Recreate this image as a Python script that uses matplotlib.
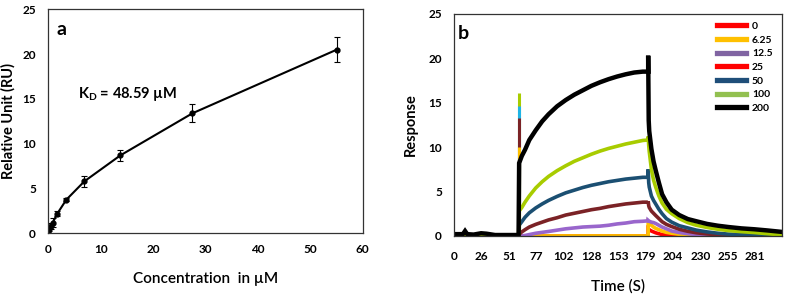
import matplotlib
matplotlib.use("Agg")
import matplotlib.pyplot as plt
from matplotlib.lines import Line2D

plt.rcParams['font.family'] = ['Lato', 'DejaVu Sans']

# ---- panel a: binding curve ----
conc = [0, 0.21, 0.43, 0.86, 1.72, 3.44, 6.88, 13.75, 27.5, 55]
ru = [0, 0.45, 0.8, 1.2, 2.2, 3.75, 5.8, 8.7, 13.4, 20.5]
ru_err = [0.1, 0.25, 0.35, 0.45, 0.3, 0.2, 0.6, 0.6, 1.0, 1.4]
kd_text = r'K$_{\mathregular{D}}$ = 48.59 µM'

# ---- panel b: sensorgrams ----
labels = ['0', '6.25', '12.5', '25', '50', '100', '200']
curve_colors = ['#ff0000', '#ffc000', '#9966cc', '#7b2226', '#1b4f72', '#a8cc00', '#000000']
legend_colors = ['#ff0000', '#ffc000', '#8064a2', '#ff0000', '#1f4e79', '#92c050', '#000000']

t_pre = [0, 8, 10, 12, 18, 25, 30, 38, 45, 55, 60]
pre_200 = [0.2, 0.2, 0.55, 0.2, 0.15, 0.3, 0.25, 0.1, 0.1, 0.1, 0.1]
pre_zero = [0, 0, 0, 0, 0, 0, 0, 0, 0, 0, 0]

t_assoc = [60.5, 63, 66, 70, 76, 82, 88, 96, 104, 112, 120, 128, 136, 144, 152, 160, 168, 176, 181]
assoc = {
    '0':    [0, 0, 0, 0, 0, 0, 0, 0, 0, 0, 0, 0, 0, 0, 0, 0, 0, 0, 0],
    '6.25': [0, 0, 0, 0, 0, 0, 0, 0, 0, 0, 0, 0, 0, 0, 0, 0, 0, 0, 0],
    '12.5': [0, 0, 0.05, 0.15, 0.3, 0.4, 0.5, 0.65, 0.8, 0.9, 1.0, 1.05, 1.1, 1.2, 1.35, 1.45, 1.6, 1.65, 1.7],
    '25':   [0.2, 0.45, 0.7, 1.0, 1.3, 1.55, 1.8, 2.05, 2.35, 2.55, 2.75, 2.95, 3.1, 3.3, 3.45, 3.6, 3.7, 3.8, 3.8],
    '50':   [1.2, 1.6, 2.1, 2.6, 3.15, 3.6, 4.0, 4.45, 4.85, 5.15, 5.45, 5.7, 5.9, 6.1, 6.25, 6.4, 6.5, 6.6, 6.6],
    '100':  [2.8, 3.2, 3.8, 4.5, 5.4, 6.1, 6.7, 7.35, 7.9, 8.4, 8.8, 9.2, 9.55, 9.85, 10.1, 10.35, 10.55, 10.75, 10.8],
    '200':  [8.2, 9.0, 9.7, 10.8, 11.9, 12.9, 13.7, 14.6, 15.3, 15.9, 16.4, 16.9, 17.3, 17.65, 17.95, 18.2, 18.4, 18.5, 18.5],
}

t_dissoc = [181, 181.5, 182, 184, 186, 188, 191, 194, 198, 203, 210, 218, 226, 236, 246, 256, 268, 280, 292, 306]
dissoc = {
    '0':    [0.8, 0.75, 0.7, 0.55, 0.45, 0.35, 0.25, 0.15, 0.1, 0.05, 0.02, 0, 0, 0, 0, 0, 0, 0, 0, 0],
    '6.25': [1.6, 1.55, 1.5, 1.2, 1.0, 0.85, 0.7, 0.55, 0.4, 0.3, 0.18, 0.1, 0.05, 0.02, 0, 0, 0, 0, 0, 0],
    '12.5': [1.75, 1.7, 1.65, 1.55, 1.5, 1.4, 1.2, 1.0, 0.8, 0.55, 0.38, 0.25, 0.15, 0.08, 0.05, 0.03, 0.03, 0.02, 0.02, 0.02],
    '25':   [3.9, 3.4, 3.2, 2.8, 2.55, 2.3, 1.95, 1.6, 1.3, 1.05, 0.75, 0.52, 0.35, 0.22, 0.14, 0.1, 0.06, 0.04, 0.03, 0.02],
    '50':   [7.5, 6.0, 5.5, 4.5, 4.0, 3.6, 3.0, 2.5, 1.95, 1.55, 1.15, 0.9, 0.65, 0.45, 0.3, 0.2, 0.15, 0.1, 0.08, 0.05],
    '100':  [11.2, 10.2, 9.5, 7.5, 6.3, 5.5, 4.5, 3.7, 3.0, 2.5, 1.95, 1.5, 1.2, 0.95, 0.75, 0.6, 0.48, 0.38, 0.25, 0.1],
    '200':  [20.3, 13.0, 11.8, 9.8, 8.4, 7.4, 6.0, 4.7, 3.8, 2.95, 2.35, 1.9, 1.65, 1.35, 1.15, 1.0, 0.85, 0.75, 0.62, 0.45],
}

# injection artefact spikes at t = 60 s
spike_t = 60
spike_heights = [16.1, 14.6, 13.3, 10.0]
spike_colors = ['#a8cc00', '#1eb4e6', '#7b2226', '#ffc000']

xtick_step = 25.54
xtick_labels = ['0', '26', '51', '77', '102', '128', '153', '179', '204', '230', '255', '281']

fig = plt.figure(figsize=(7.87, 2.96), dpi=100)

# ---------- a ----------
ax1 = fig.add_axes([0.0614, 0.212, 0.3995, 0.756])
ax1.errorbar(conc, ru, yerr=ru_err, color='black', lw=1.5, marker='o', ms=3.5,
             ecolor='black', elinewidth=0.8, capsize=2.5, capthick=0.8)
ax1.set_xlim(0, 60)
ax1.set_ylim(0, 25)
ax1.set_xticks(range(0, 61, 10))
ax1.set_yticks(range(0, 26, 5))
ax1.tick_params(length=0, labelsize=8.5)
ax1.tick_params(axis='y', pad=9)
ax1.tick_params(axis='x', pad=8)
for lab in ax1.get_xticklabels() + ax1.get_yticklabels():
    lab.set_fontweight('bold')
for s in ax1.spines.values():
    s.set_color('#333333')
    s.set_linewidth(0.9)
ax1.set_ylabel('Relative Unit (RU)', fontsize=10.5, fontweight='bold', labelpad=5)
ax1.set_xlabel('Concentration  in µM', fontsize=11, fontweight='semibold', labelpad=12)
ax1.text(5.6, 15.6, kd_text, fontsize=10.5, fontweight='bold', va='center')
ax1.text(2.5, 22.8, 'a', fontsize=14, fontweight='bold', va='center', ha='center')

# ---------- b ----------
ax2 = fig.add_axes([0.5773, 0.203, 0.4164, 0.75])
for h, c in zip(spike_heights, spike_colors):
    ax2.vlines(spike_t, 0, h, color=c, lw=2.2)
for lab, c in zip(labels, curve_colors):
    pre = pre_200 if lab == '200' else pre_zero
    t = t_pre + t_assoc + t_dissoc
    y = pre + assoc[lab] + dissoc[lab]
    ax2.plot(t, y, color=c, lw=3.2 if lab == '200' else 2.6, solid_joinstyle='miter')

ax2.set_xlim(0, 306)
ax2.set_ylim(0, 25)
ax2.set_xticks([i * xtick_step for i in range(len(xtick_labels))])
ax2.set_xticklabels(xtick_labels)
ax2.set_yticks(range(0, 26, 5))
ax2.tick_params(length=0, labelsize=8.5)
ax2.tick_params(axis='y', pad=9)
ax2.tick_params(axis='x', pad=11)
for lab in ax2.get_xticklabels() + ax2.get_yticklabels():
    lab.set_fontweight('bold')
for s in ax2.spines.values():
    s.set_color('#333333')
    s.set_linewidth(0.9)
ax2.set_ylabel('Response', fontsize=10.5, fontweight='bold', labelpad=7)
ax2.set_xlabel('Time (S)', fontsize=11, fontweight='semibold', labelpad=12)
ax2.text(8.5, 22.8, 'b', fontsize=14, fontweight='bold', va='center', ha='center')

handles = [Line2D([], [], color=c, lw=3.8) for c in legend_colors]
leg = ax2.legend(handles, labels, loc='upper left', bbox_to_anchor=(0.80, 0.965),
                 frameon=False, fontsize=7.5, handlelength=2.8, handletextpad=0.6,
                 labelspacing=0.42, borderpad=0, borderaxespad=0)
for txt in leg.get_texts():
    txt.set_fontweight('bold')

fig.savefig('out.png', dpi=100)
